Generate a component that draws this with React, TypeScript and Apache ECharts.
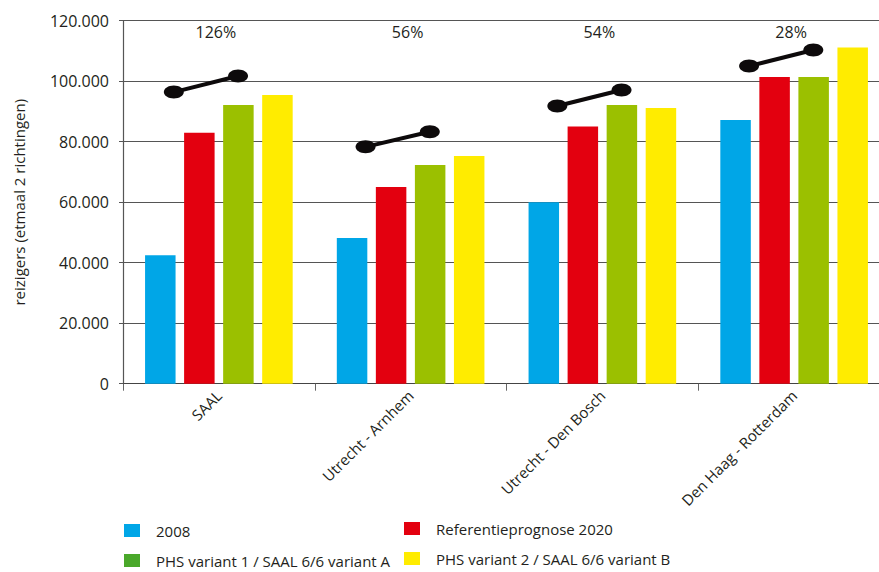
import React, { useEffect, useRef } from "react";
import * as echarts from "echarts";

const categories = ["SAAL", "Utrecht - Arnhem", "Utrecht - Den Bosch", "Den Haag - Rotterdam"];
const seriesNames = [
  "2008",
  "Referentieprognose 2020",
  "PHS variant 1 / SAAL 6/6 variant A",
  "PHS variant 2 / SAAL 6/6 variant B",
];
const values2008 = [42500, 48200, 60000, 87200];
const valuesRef2020 = [83000, 65000, 85000, 101400];
const valuesPhs1 = [92100, 72300, 92100, 101400];
const valuesPhs2 = [95400, 75300, 91100, 111100];
const growthStart = [96400, 78300, 91800, 105000];
const growthEnd = [101700, 83300, 97100, 110300];
const growthLabels = ["126%", "56%", "54%", "28%"];
const yTicks = [0, 20000, 40000, 60000, 80000, 100000, 120000];

const barColors = ["#00a6e7", "#e3000f", "#9bc000", "#ffec00"];
const legendGreen = "#4aa82a";
const FONT = "'Open Sans', sans-serif";
const TEXT = "#231f20";

export default function App() {
  const ref = useRef<HTMLDivElement>(null);
  useEffect(() => {
    if (!ref.current) return;
    const chart = echarts.init(ref.current, null, { renderer: "svg" });
    const barData = [values2008, valuesRef2020, valuesPhs1, valuesPhs2];
    const customData = categories.map((_, i) => [i, growthStart[i], growthEnd[i]]);
    const legendBase = {
      orient: "vertical",
      padding: 0,
      height: 50,
      itemWidth: 16,
      itemHeight: 13,
      itemGap: 15,
      icon: "rect",
      textStyle: { fontSize: 15, color: TEXT, fontFamily: FONT, padding: [0, 0, 0, 11] },
    };
    const option: any = {
      animation: false,
      textStyle: { fontFamily: FONT },
      grid: { left: 123, top: 20.7, width: 767, height: 363 },
      xAxis: {
        type: "category",
        data: categories,
        axisLine: { lineStyle: { color: "#444", width: 1.2 } },
        axisTick: { show: true, length: 7, lineStyle: { color: "#666" } },
        axisLabel: {
          rotate: 45,
          margin: 9,
          fontSize: 15,
          color: TEXT,
          fontFamily: FONT,
          interval: 0,
        },
      },
      yAxis: {
        type: "value",
        min: 0,
        max: yTicks[yTicks.length - 1],
        interval: yTicks[1] - yTicks[0],
        name: "reizigers (etmaal 2 richtingen)",
        nameLocation: "middle",
        nameGap: 97,
        nameTextStyle: { fontSize: 15, color: TEXT, fontFamily: FONT },
        axisLine: { show: true, lineStyle: { color: "#555", width: 1.2 } },
        axisTick: { show: true, length: 4, lineStyle: { color: "#555" } },
        axisLabel: {
          margin: 14,
          fontSize: 16,
          color: TEXT,
          fontFamily: FONT,
          formatter: (v: number) => (v === 0 ? "0" : v.toLocaleString("de-DE")),
        },
        splitLine: { lineStyle: { color: "#555", width: 1 } },
      },
      legend: [
        {
          ...legendBase,
          left: 124,
          top: 523,
          data: [
            { name: seriesNames[0] },
            { name: seriesNames[2], itemStyle: { color: legendGreen } },
          ],
        },
        {
          ...legendBase,
          left: 404,
          top: 521,
          data: [{ name: seriesNames[1] }, { name: seriesNames[3] }],
        },
      ],
      series: [
        ...seriesNames.map((name, k) => ({
          name,
          type: "bar",
          data: barData[k],
          barWidth: 30.5,
          barGap: "28%",
          itemStyle: { color: barColors[k] },
        })),
        {
          type: "custom",
          name: "groei",
          data: customData,
          encode: { x: 0, y: [1, 2] },
          clip: false,
          z: 5,
          renderItem: (params: any, api: any) => {
            const i = api.value(0);
            const c1 = api.coord([i, api.value(1)]);
            const c2 = api.coord([i, api.value(2)]);
            const w = api.size([1, 0])[0];
            const x1 = c1[0] - 0.235 * w;
            const x2 = c2[0] + 0.1 * w;
            const top = api.coord([i, yTicks[yTicks.length - 1]]);
            return {
              type: "group",
              children: [
                {
                  type: "line",
                  shape: { x1, y1: c1[1], x2, y2: c2[1] },
                  style: { stroke: "#0d0a0b", lineWidth: 4 },
                },
                {
                  type: "ellipse",
                  shape: { cx: x1, cy: c1[1], rx: 10, ry: 6.5 },
                  style: { fill: "#0d0a0b" },
                },
                {
                  type: "ellipse",
                  shape: { cx: x2, cy: c2[1], rx: 10, ry: 6.5 },
                  style: { fill: "#0d0a0b" },
                },
                {
                  type: "text",
                  x: top[0] - 3,
                  y: top[1] + 11,
                  style: {
                    text: growthLabels[i],
                    fill: TEXT,
                    fontSize: 16,
                    fontFamily: FONT,
                    align: "center",
                    verticalAlign: "middle",
                  },
                },
              ],
            };
          },
        },
      ],
    };
    chart.setOption(option);
    return () => chart.dispose();
  }, []);
  return (
    <div style={{ position: "fixed", left: 0, top: 0, width: 879, height: 572, overflow: "hidden", background: "#fff" }}>
      <div ref={ref} style={{ position: "absolute", left: 0, top: 0, width: 890, height: 572 }} />
    </div>
  );
}
